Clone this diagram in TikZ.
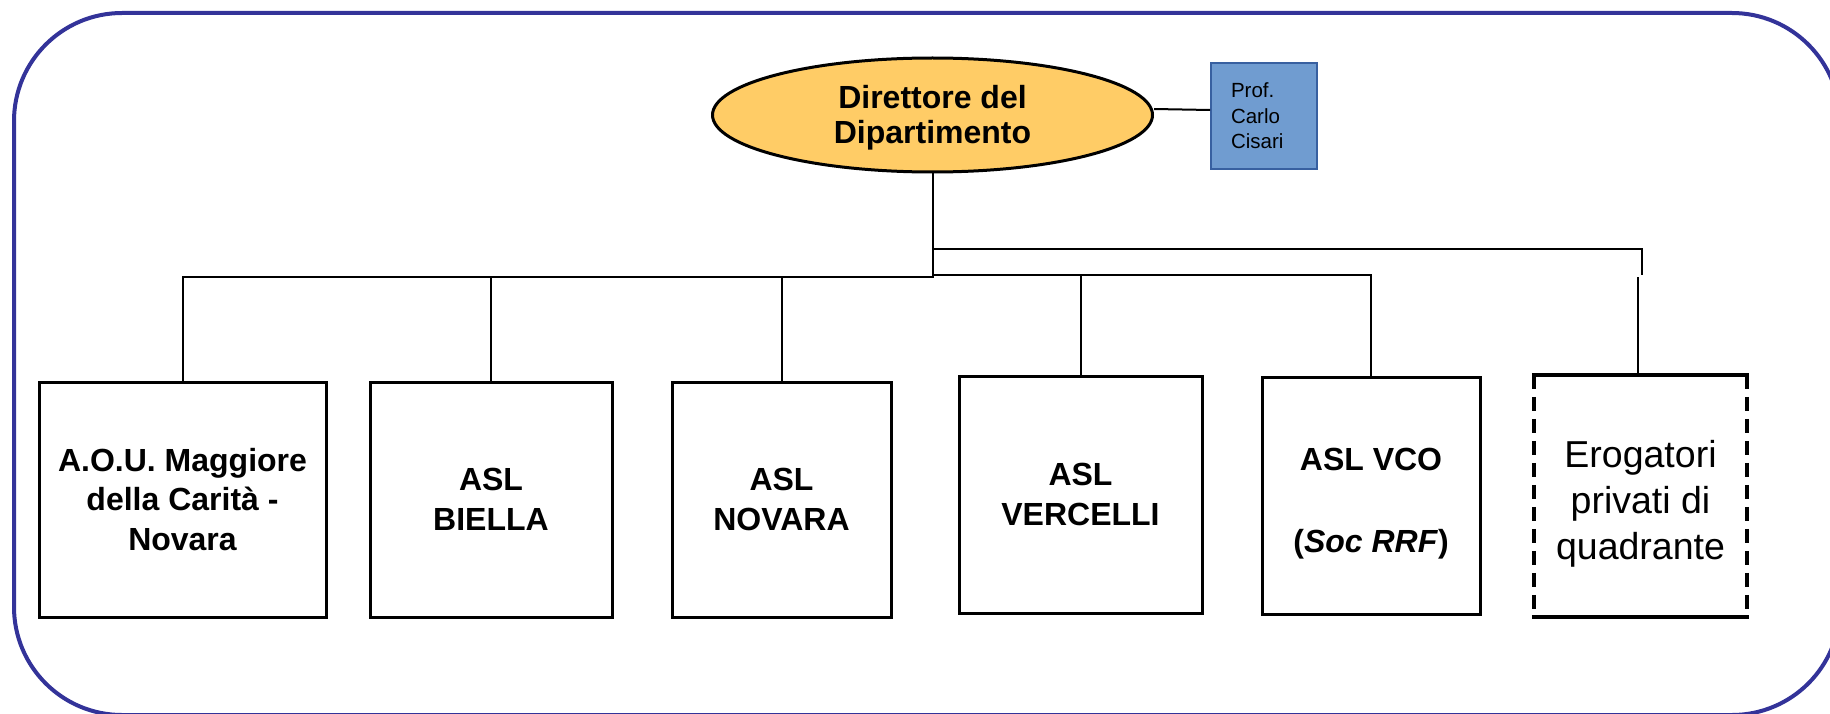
\documentclass[tikz,border=0pt]{standalone}
\usepackage{fontspec}
\setmainfont{Liberation Sans}
\usetikzlibrary{shapes.geometric}
\definecolor{framecol}{RGB}{51,51,153}
\definecolor{dirfill}{RGB}{255,204,102}
\definecolor{proffill}{RGB}{112,156,208}
\definecolor{profdraw}{RGB}{56,96,160}
\begin{document}
\begin{tikzpicture}[x=1pt,y=-1pt,
  unitbox/.style={draw, line width=3pt, fill=white, align=center, inner sep=0pt,
    font=\fontsize{32}{39.5}\selectfont\bfseries},
  link/.style={line width=2pt},
  sideline/.style={line width=3.5pt},
  sidedash/.style={line width=3.5pt, dash pattern=on 14pt off 8pt},
]
\useasboundingbox (0,0) rectangle (1830,714);
\clip (0,0) rectangle (1830,714);
\draw[framecol, line width=4pt, rounded corners=108pt] (14,13) rectangle (1840,715);

\node[ellipse, draw, line width=3pt, fill=dirfill, minimum width=440pt, minimum height=114pt,
  inner sep=0pt, align=center, font=\fontsize{32}{35.5}\selectfont\bfseries] (dir) at (932.5,115)
  {\rule{0pt}{29pt}Direttore del\\Dipartimento};

\node[draw=profdraw, line width=2pt, fill=proffill, minimum width=106pt, minimum height=106pt,
  text width=66pt, inner xsep=20pt, inner ysep=0pt, align=left,
  font=\fontsize{20.5}{25.5}\selectfont] (prof) at (1264,116) {Prof.\\Carlo\\Cisari};

\node[unitbox, minimum width=287pt, minimum height=235pt] (b1) at (182.5,499.5)
  {A.O.U. Maggiore\\della Carità -\\Novara};
\node[unitbox, minimum width=242pt, minimum height=235pt] (b2) at (491,499.5) {ASL\\BIELLA};
\node[unitbox, minimum width=219pt, minimum height=235pt] (b3) at (781.5,499.5) {ASL\\NOVARA};
\node[unitbox, minimum width=243pt, minimum height=237pt] (b4) at (1080.5,494.5) {ASL\\VERCELLI};
\node[unitbox, minimum width=218pt, minimum height=237pt] (b5) at (1371,495.5)
  {\rule{0pt}{39pt}ASL VCO\\[42.5pt](\textit{Soc RRF})};

\node[minimum width=213pt, minimum height=242pt, inner sep=0pt, align=center,
  font=\fontsize{37.5}{46}\selectfont] (b6) at (1640.5,496)
  {\rule{0pt}{42pt}Erogatori\\privati di\\quadrante};
\draw[sideline] ([xshift=-2pt]b6.north west) -- ([xshift=2pt]b6.north east);
\draw[sideline] ([xshift=-2pt]b6.south west) -- ([xshift=2pt]b6.south east);
\draw[sidedash] (b6.north west) -- (b6.south west);
\draw[sidedash] (b6.north east) -- (b6.south east);

\coordinate (barL) at (932.5,277);
\coordinate (barR) at (932.5,275);
\coordinate (up) at (932.5,249);
\coordinate (upE) at (1642,249);
\coordinate (upD) at (1642,275);
\coordinate (drop6) at (1638,277);

\draw[link] (dir.south) -- (barL);
\draw[link] (b1.north) -- (b1.north |- barL) -- (barL) -- (barR) -- (b5.north |- barR) -- (b5.north);
\draw[link] (b2.north) -- (b2.north |- barL);
\draw[link] (b3.north) -- (b3.north |- barL);
\draw[link] (b4.north) -- (b4.north |- barR);
\draw[link] (up) -- (upE) -- (upD);
\draw[link] (drop6) -- (drop6 |- b6.north);
\draw[link] ([yshift=6pt]dir.east) -- ([yshift=6pt]prof.west);
\end{tikzpicture}
\end{document}
